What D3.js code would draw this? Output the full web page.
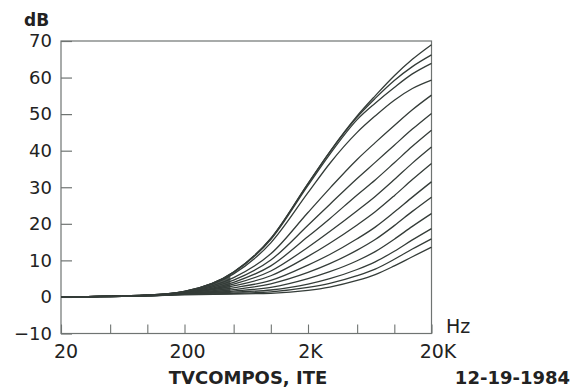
<!DOCTYPE html>
<html><head><meta charset="utf-8">
<script src="https://cdn.jsdelivr.net/npm/d3@7"></script>
<style>
html,body{margin:0;padding:0;background:#fff;}
svg{display:block;}
text{font-family:"DejaVu Sans",sans-serif;fill:#222;}
</style></head>
<body><svg id="c" width="576" height="389"></svg>
<script>
// ---- data ----
const freqs = [20, 100, 200, 500, 1000, 2000, 3000, 5000, 7000, 10000, 14000, 20000];
const c1  = [0, 0.5, 1.5, 6.8, 16.0, 31.0, 39.7, 49.5, 55.0, 60.5, 65.0, 69.0];
const c2  = [0, 0.5, 1.5, 6.8, 16.0, 31.0, 39.6, 49.2, 54.3, 59.2, 63.0, 66.2];
const c3  = [0, 0.5, 1.5, 6.7, 15.7, 30.5, 39.0, 48.5, 53.0, 57.3, 61.0, 63.9];
const c4  = [0, 0.5, 1.4, 6.3, 14.8, 28.5, 36.5, 45.0, 49.5, 53.8, 57.0, 59.3];
const c5  = [0, 0.4, 1.3, 5.3, 11.8, 23.1, 29.7, 37.6, 42.2, 46.9, 51.2, 55.2];
const c6  = [0, 0.4, 1.2, 4.6, 10.1, 19.6, 25.3, 32.4, 36.8, 41.5, 45.9, 50.2];
const c7  = [0, 0.4, 1.1, 4.0, 8.5, 16.5, 21.4, 27.9, 32.0, 36.7, 41.2, 45.6];
const c8  = [0, 0.4, 1.0, 3.5, 7.1, 13.6, 17.9, 23.6, 27.5, 32.1, 36.6, 41.0];
const c9  = [0, 0.4, 1.0, 3.0, 5.8, 11.1, 14.7, 19.7, 23.3, 27.7, 32.1, 36.5];
const c10 = [0, 0.4, 0.9, 2.5, 4.5, 8.7, 11.6, 15.9, 19.1, 23.2, 27.3, 31.5];
const c11 = [0, 0.3, 0.9, 2.0, 3.6, 6.7, 9.1, 12.8, 15.7, 19.5, 23.4, 27.3];
const c12 = [0, 0.3, 0.8, 1.6, 2.6, 5.0, 6.9, 9.9, 12.4, 15.8, 19.3, 22.8];
const c13 = [0, 0.3, 0.8, 1.3, 1.9, 3.5, 5.0, 7.5, 9.6, 12.5, 15.6, 18.7];
const c14 = [0, 0.3, 0.7, 1.0, 1.4, 2.6, 3.7, 5.8, 7.6, 10.3, 13.1, 15.9];
const c15 = [0, 0.3, 0.6, 0.8, 1.0, 1.8, 2.7, 4.5, 6.1, 8.5, 11.0, 13.6];
const series = [c1, c2, c3, c4, c5, c6, c7, c8, c9, c10, c11, c12, c13, c14, c15];

const yTicks = [70, 60, 50, 40, 30, 20, 10, 0, -10];
const yTickLabels = ["70", "60", "50", "40", "30", "20", "10", "0", "\u221210"];
const xTicks = [20, 50, 100, 200, 500, 1000, 2000, 5000, 10000, 20000];
const xLabelVals = [20, 200, 2000, 20000];
const xLabelText = ["20", "200", "2K", "20K"];

// ---- layout ----
const svg = d3.select("#c");
const L = 61, R = 431.5, T = 41, B = 333.5;
const x = d3.scaleLog().domain([20, 20000]).range([L, R]);
const y = d3.scaleLinear().domain([-10, 70]).range([B, T]);
const frameColor = "#6f7472";
const curveColor = "#343c38";

// y axis (inward ticks)
const yAxis = d3.axisLeft(y).tickValues(yTicks).tickSize(-11).tickPadding(9)
  .tickFormat((d, i) => yTickLabels[i]);
const gy = svg.append("g").attr("transform", `translate(${L},0)`).call(yAxis);
gy.select(".domain").remove();
gy.selectAll(".tick line").attr("stroke", frameColor).attr("stroke-width", 1.2);
gy.selectAll(".tick text").style("font-size", "18px").attr("fill", "#222").attr("x", -9);

// x axis (inward short ticks)
const xAxis = d3.axisBottom(x).tickValues(xTicks).tickSize(-9).tickPadding(11)
  .tickFormat(d => { const i = xLabelVals.indexOf(d); return i >= 0 ? xLabelText[i] : ""; });
const gx = svg.append("g").attr("transform", `translate(0,${B})`).call(xAxis);
gx.select(".domain").remove();
gx.selectAll(".tick line").attr("stroke", frameColor).attr("stroke-width", 1.1);
const dxMap = {20: 4.5, 200: 2.5, 2000: 2, 20000: 6};
gx.selectAll(".tick text").style("font-size", "19px").attr("fill", "#222")
  .attr("dx", d => dxMap[d] || 0);

// frame
svg.append("rect").attr("x", L).attr("y", T).attr("width", R - L).attr("height", B - T)
  .attr("fill", "none").attr("stroke", frameColor).attr("stroke-width", 1.2);

const pts = s => freqs.map((f, i) => [f, s[i]]);

// dense overdraw smear of the bundle (as printed)
const defs = svg.append("defs");
const grad = defs.append("linearGradient").attr("id", "smear")
  .attr("gradientUnits", "userSpaceOnUse")
  .attr("x1", x(140)).attr("x2", x(470)).attr("y1", 0).attr("y2", 0);
grad.append("stop").attr("offset", "0").attr("stop-color", curveColor).attr("stop-opacity", 0);
grad.append("stop").attr("offset", "0.55").attr("stop-color", curveColor).attr("stop-opacity", 0.75);
grad.append("stop").attr("offset", "1").attr("stop-color", curveColor).attr("stop-opacity", 0.85);
defs.append("clipPath").attr("id", "smearClip").append("rect")
  .attr("x", x(140)).attr("y", T).attr("width", x(470) - x(140)).attr("height", B - T);
const area = d3.area().x((d, i) => x(freqs[i])).y0((d, i) => y(c15[i])).y1((d, i) => y(c1[i]))
  .curve(d3.curveMonotoneX);
svg.append("path").attr("d", area(c1)).attr("fill", "url(#smear)")
  .attr("clip-path", "url(#smearClip)");

// curves
const line = d3.line().x(d => x(d[0])).y(d => y(d[1])).curve(d3.curveMonotoneX);
svg.append("g").selectAll("path").data(series).join("path")
  .attr("d", s => line(pts(s)))
  .attr("fill", "none").attr("stroke", curveColor).attr("stroke-width", 1.3);

// labels
svg.append("text").attr("x", 24).attr("y", 26).style("font-size", "17px")
  .style("font-weight", "bold").text("dB");
svg.append("text").attr("x", 446).attr("y", 333).style("font-size", "19px").text("Hz");
svg.append("text").attr("x", 248).attr("y", 384).attr("text-anchor", "middle")
  .style("font-size", "18px").style("font-weight", "bold").text("TVCOMPOS, ITE");
svg.append("text").attr("x", 570).attr("y", 384).attr("text-anchor", "end")
  .style("font-size", "18px").style("font-weight", "bold").text("12-19-1984");
</script></body></html>
